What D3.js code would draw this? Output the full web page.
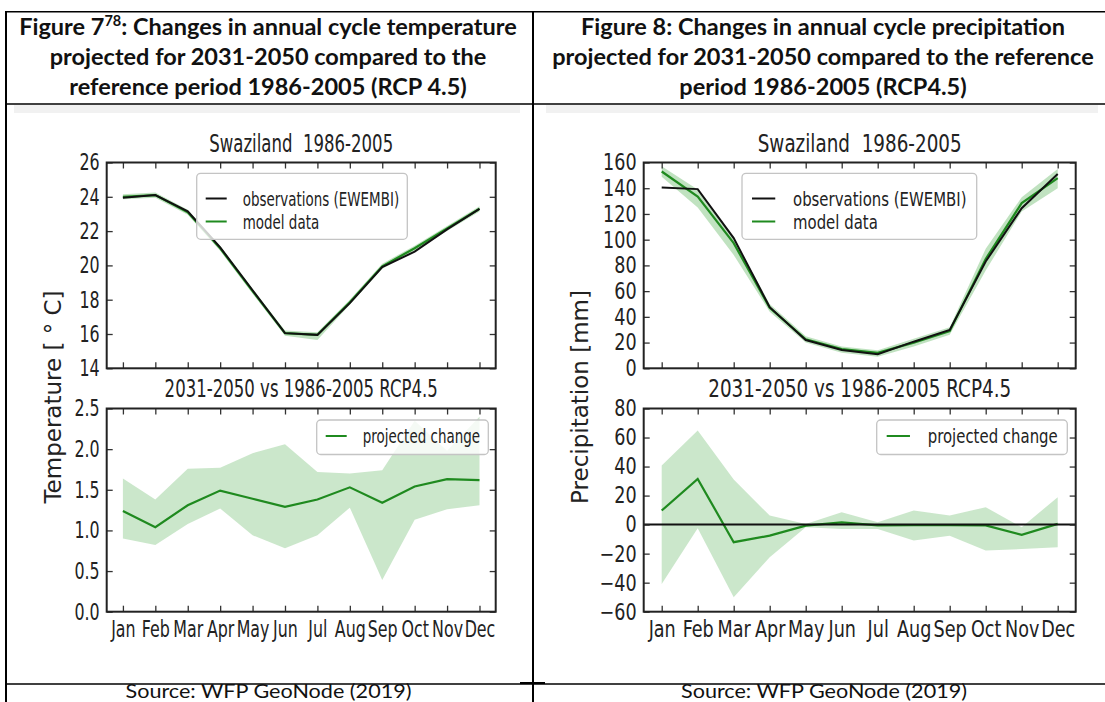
<!DOCTYPE html>
<html><head><meta charset="utf-8">
<script src="https://cdn.jsdelivr.net/npm/d3@7"></script>
<style>
body{margin:0;background:#fff;}
svg{display:block;}
text{white-space:pre;}
</style></head><body>
<svg id="c" width="1105" height="702"></svg>
<script>
// ---------------- data ----------------
const months = ["Jan","Feb","Mar","Apr","May","Jun","Jul","Aug","Sep","Oct","Nov","Dec"];
const monthIdx = [1,2,3,4,5,6,7,8,9,10,11,12];

// Temperature, 1986-2005
const tempObs       = [23.95, 24.1, 23.15, 21.05, 18.55, 16.05, 15.95, 17.8, 19.9, 20.8, 22.1, 23.3];
const tempModel     = [24.0, 24.1, 23.1, 21.0, 18.5, 16.05, 15.95, 17.85, 19.95, 21.0, 22.15, 23.3];
const tempModelLow  = [23.85, 23.95, 22.95, 20.85, 18.35, 15.9, 15.65, 17.7, 19.8, 20.85, 22.0, 23.15];
const tempModelHigh = [24.15, 24.25, 23.25, 21.15, 18.65, 16.2, 16.1, 18.0, 20.1, 21.15, 22.3, 23.45];
// Temperature change 2031-2050 vs 1986-2005
const tempChange     = [1.24, 1.04, 1.31, 1.49, 1.39, 1.29, 1.38, 1.53, 1.34, 1.54, 1.63, 1.62];
const tempChangeLow  = [0.90, 0.82, 1.08, 1.27, 0.94, 0.78, 0.94, 1.28, 0.39, 1.13, 1.26, 1.31];
const tempChangeHigh = [1.64, 1.38, 1.76, 1.77, 1.95, 2.06, 1.72, 1.70, 1.74, 2.35, 1.98, 2.40];

// Precipitation, 1986-2005
const precObs       = [140.5, 139.3, 101.2, 47.5, 22.0, 14.2, 10.9, 20.7, 29.8, 83, 124.5, 151];
const precModel     = [153, 133.5, 97.3, 47, 22.5, 15, 12, 20, 29, 85, 128.4, 147.9];
const precModelLow  = [149, 125, 88, 44, 20, 12, 9, 17, 26, 76, 122, 140];
const precModelHigh = [157, 139, 101, 50, 25, 17, 14, 23, 32, 93, 133, 155];
// Precipitation change
const precChange     = [9.7, 31.5, -12.1, -7.6, -0.7, 1.6, -0.5, -0.3, -0.3, -0.5, -7.1, 0.5];
const precChangeLow  = [-40.9, -2.5, -50, -22.5, -1.8, -3, -3, -11, -7.6, -17.9, -16.8, -15.6];
const precChangeHigh = [40.7, 64.8, 31, 6.2, 0.5, 8.5, 1.6, 9.7, 6.2, 12, -1.8, 18.9];

// tick values
const tempTicks = [14,16,18,20,22,24,26];
const tempChangeTicks = [0.0,0.5,1.0,1.5,2.0,2.5];
const precTicks = [0,20,40,60,80,100,120,140,160];
const precChangeTicks = [-60,-40,-20,0,20,40,60,80];

// ---------------- drawing ----------------
const svg = d3.select("#c");
const FONT = "DejaVu Sans";
const GREEN = "#1f8a1f";
const BAND = "#2e9e2e";

function squishText(sel, sx){
  sel.each(function(){
    const t = d3.select(this);
    const x = +t.attr("x") || 0;
    t.attr("x", 0).attr("transform", `translate(${x},0) scale(${sx},1)`);
  });
}

function drawPanel(cfg){
  const {x, y, sx, yTicks, yFmt, xLabels, title, titleY} = cfg;
  const g = svg.append("g");
  const X0 = x.range()[0], X1 = x.range()[1];
  const Yb = y.range()[0], Yt = y.range()[1];
  cfg.draw(g);
  const axes = [
    g.append("g").attr("transform",`translate(0,${Yb})`)
      .call(d3.axisBottom(x).tickValues(monthIdx).tickSize(-6).tickPadding(9)
        .tickFormat(xLabels ? (d => months[d-1]) : (d => ""))),
    g.append("g").attr("transform",`translate(0,${Yt})`)
      .call(d3.axisTop(x).tickValues(monthIdx).tickSize(-6).tickFormat(d => "")),
    g.append("g").attr("transform",`translate(${X0},0)`)
      .call(d3.axisLeft(y).tickValues(yTicks).tickSize(-6).tickPadding(7).tickFormat(yFmt)),
    g.append("g").attr("transform",`translate(${X1},0)`)
      .call(d3.axisRight(y).tickValues(yTicks).tickSize(-6).tickFormat(d => ""))
  ];
  axes.forEach(a => {
    a.select(".domain").remove();
    a.attr("font-family", FONT).attr("font-size", 23);
    a.selectAll(".tick line").attr("stroke","#333").attr("stroke-width",1.3);
    a.selectAll(".tick text").attr("fill","#222");
  });
  g.append("rect").attr("x",X0).attr("y",Yt).attr("width",X1-X0).attr("height",Yb-Yt)
    .attr("fill","none").attr("stroke","#222").attr("stroke-width",2);
  squishText(g.selectAll(".tick text"), sx);
  g.append("text")
    .attr("transform",`translate(${(X0+X1)/2},${titleY}) scale(${sx},1)`)
    .attr("text-anchor","middle").attr("font-family",FONT).attr("font-size",24).attr("fill","#222")
    .text(title);
  return g;
}

function legend(g, box, items, sx, k){
  g.append("rect").attr("x",box[0]).attr("y",box[1]).attr("width",box[2]-box[0]).attr("height",box[3]-box[1])
    .attr("rx",4).attr("fill","#fff").attr("fill-opacity",0.8).attr("stroke","#c4c4c4").attr("stroke-width",1.3);
  items.forEach(it => {
    const hx = box[0] + 9*k;
    g.append("line").attr("x1",hx).attr("x2",hx+21*k).attr("y1",it.y).attr("y2",it.y)
      .attr("stroke",it.color).attr("stroke-width",2);
    g.append("text").attr("transform",`translate(${hx+37*k},${it.y+7}) scale(${sx},1)`)
      .attr("font-family",FONT).attr("font-size",19.5).attr("fill","#222").text(it.label);
  });
}

function drawChart(c){
  const x = d3.scaleLinear().domain([0.5,12.5]).range([c.x0,c.x1]);
  const yTop = d3.scaleLinear().domain(c.topDomain).range([368.3,162.5]);
  const yBot = d3.scaleLinear().domain(c.botDomain).range([611.7,408.5]);
  const k = c.sx/0.69;

  const gt = drawPanel({x, y:yTop, sx:c.sx, yTicks:c.topTicks, yFmt:c.topFmt, xLabels:false,
    title:"Swaziland  1986-2005", titleY:152,
    draw: g => {
      g.append("path").datum(monthIdx)
        .attr("d", d3.area().x(d=>x(d)).y0(d=>yTop(c.modelLow[d-1])).y1(d=>yTop(c.modelHigh[d-1])))
        .attr("fill",BAND).attr("fill-opacity",0.3);
      g.append("path").datum(monthIdx)
        .attr("d", d3.line().x(d=>x(d)).y(d=>yTop(c.model[d-1])))
        .attr("fill","none").attr("stroke",GREEN).attr("stroke-width",2.2);
      g.append("path").datum(monthIdx)
        .attr("d", d3.line().x(d=>x(d)).y(d=>yTop(c.obs[d-1])))
        .attr("fill","none").attr("stroke","#111").attr("stroke-width",2);
    }});
  legend(gt, c.legTop, [
    {y:198.5, color:"#111", label:"observations (EWEMBI)"},
    {y:221.5, color:GREEN, label:"model data"}], c.sx, k);

  const gb = drawPanel({x, y:yBot, sx:c.sx, yTicks:c.botTicks, yFmt:c.botFmt, xLabels:true,
    title:"2031-2050 vs 1986-2005 RCP4.5", titleY:397,
    draw: g => {
      g.append("path").datum(monthIdx)
        .attr("d", d3.area().x(d=>x(d)).y0(d=>yBot(c.chLow[d-1])).y1(d=>yBot(c.chHigh[d-1])))
        .attr("fill",BAND).attr("fill-opacity",0.25);
      g.append("path").datum(monthIdx)
        .attr("d", d3.line().x(d=>x(d)).y(d=>yBot(c.ch[d-1])))
        .attr("fill","none").attr("stroke",GREEN).attr("stroke-width",2.2);
      if (c.zeroLine) {
        g.append("line").attr("x1",c.x0).attr("x2",c.x1).attr("y1",yBot(0)).attr("y2",yBot(0))
          .attr("stroke","#111").attr("stroke-width",2);
      }
    }});
  legend(gb, c.legBot, [{y:436, color:GREEN, label:"projected change"}], c.sx, k);

  svg.append("text")
    .attr("transform",`translate(${c.ylabX},397) rotate(-90)`)
    .attr("text-anchor","middle").attr("font-family",FONT).attr("font-size",23).attr("fill","#222")
    .text(c.ylabel);
}

drawChart({
  x0:106.7, x1:495.7, sx:0.69,
  topDomain:[14,26], topTicks:tempTicks, topFmt:d3.format("d"),
  botDomain:[0,2.5], botTicks:tempChangeTicks, botFmt:d3.format(".1f"),
  obs:tempObs, model:tempModel, modelLow:tempModelLow, modelHigh:tempModelHigh,
  ch:tempChange, chLow:tempChangeLow, chHigh:tempChangeHigh, zeroLine:false,
  legTop:[196.7,173.3,407.3,239.3], legBot:[316.7,420,488.3,454.5],
  ylabel:"Temperature [ \u00B0 C]", ylabX:61
});
drawChart({
  x0:643.7, x1:1075.7, sx:0.765,
  topDomain:[0,160], topTicks:precTicks, topFmt:d3.format("d"),
  botDomain:[-60,80], botTicks:precChangeTicks, botFmt:d3.format("d"),
  obs:precObs, model:precModel, modelLow:precModelLow, modelHigh:precModelHigh,
  ch:precChange, chLow:precChangeLow, chHigh:precChangeHigh, zeroLine:true,
  legTop:[742,173.3,976.7,239.3], legBot:[876.7,420,1067.3,454.5],
  ylabel:"Precipitation [mm]", ylabX:588
});

// ---------------- document table frame ----------------
const frame = svg.append("g").attr("stroke","#000");
svg.insert("rect",":first-child").attr("x",14).attr("y",105).attr("width",506).attr("height",8).attr("fill","#f1f1f1");
svg.insert("rect",":first-child").attr("x",546).attr("y",105).attr("width",552).attr("height",8).attr("fill","#f1f1f1");
frame.append("line").attr("x1",5).attr("x2",1105).attr("y1",11.7).attr("y2",11.7).attr("stroke-width",1.6);
frame.append("line").attr("x1",6).attr("x2",1105).attr("y1",104).attr("y2",104).attr("stroke-width",1.6);
frame.append("line").attr("x1",6).attr("x2",1105).attr("y1",684).attr("y2",684).attr("stroke-width",1.6);
frame.append("line").attr("x1",520).attr("x2",545).attr("y1",683).attr("y2",683).attr("stroke-width",2);
frame.append("line").attr("x1",6).attr("x2",6).attr("y1",11).attr("y2",702).attr("stroke-width",2);
frame.append("line").attr("x1",533).attr("x2",533).attr("y1",11).attr("y2",702).attr("stroke-width",2);

const HF = "Lato";
function header(cx, lines){
  lines.forEach((ln, i) => {
    const t = svg.append("text").attr("x",cx).attr("y",35+30*i).attr("text-anchor","middle")
      .attr("font-family",HF).attr("font-weight","bold").attr("font-size",23.5).attr("fill","#111");
    ln.forEach(part => {
      const ts = t.append("tspan").text(part.t);
      if (part.sup) ts.attr("font-size",14.5).attr("dy",-9);
      if (part.after) ts.attr("dy",9);
    });
  });
}
header(268, [
  [{t:"Figure 7"},{t:"78",sup:true},{t:": Changes in annual cycle temperature",after:true}],
  [{t:"projected for 2031-2050 compared to the"}],
  [{t:"reference period 1986-2005 (RCP 4.5)"}]
]);
header(823, [
  [{t:"Figure 8: Changes in annual cycle precipitation"}],
  [{t:"projected for 2031-2050 compared to the reference"}],
  [{t:"period 1986-2005 (RCP4.5)"}]
]);
[[268.5,"Source: WFP GeoNode (2019)"],[824,"Source: WFP GeoNode (2019)"]].forEach(s => {
  svg.append("text").attr("x",s[0]).attr("y",697.6).attr("text-anchor","middle")
    .attr("font-family",HF).attr("font-size",18.5)
    .attr("textLength",286).attr("lengthAdjust","spacingAndGlyphs")
    .attr("fill","#111").text(s[1]);
});
</script>
</body></html>
